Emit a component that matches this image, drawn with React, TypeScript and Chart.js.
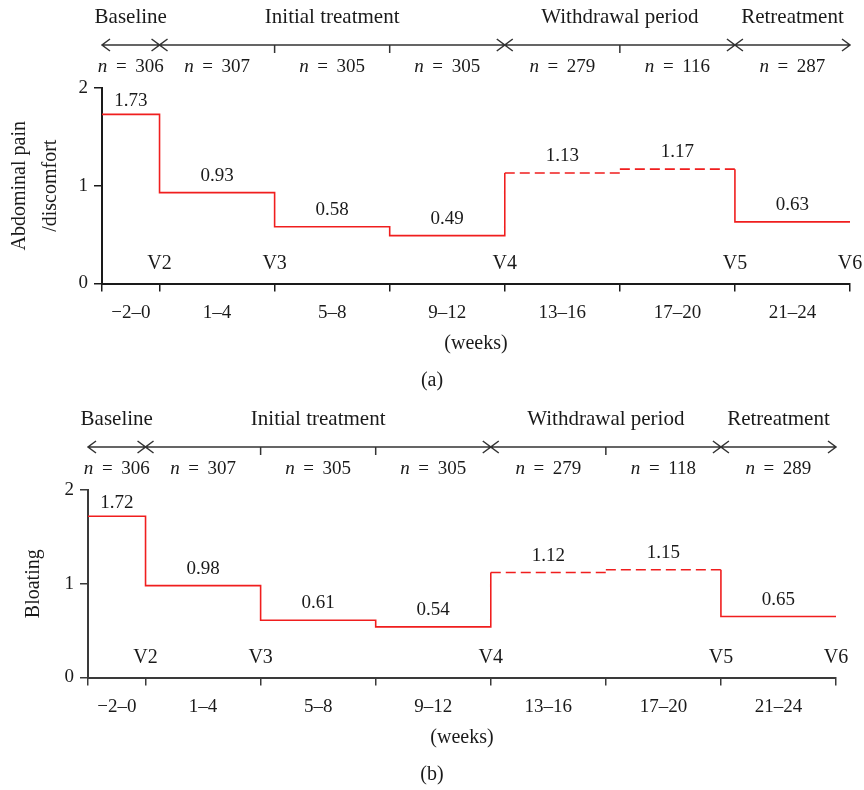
import React, { useEffect, useRef } from "react";
import { Chart, registerables } from "chart.js";

Chart.register(...registerables);

// ---------- data ----------
const weekBoundaries = [-2, 0, 4, 8, 12, 16, 20, 24];
const weekRangeLabels = ["\u22122\u20130", "1\u20134", "5\u20138", "9\u201312", "13\u201316", "17\u201320", "21\u201324"];
const dashedPeriods = [false, false, false, false, true, true, false];
const visitLabels = ["V2", "V3", "V4", "V5", "V6"];
const visitWeeks = [0, 4, 12, 20, 24];
const phaseLabels = ["Baseline", "Initial treatment", "Withdrawal period", "Retreatment"];
const phaseStartWeeks = [-2, 0, 12, 20];
const phaseEndWeeks = [0, 12, 20, 24];
const yTickValues = [0, 1, 2];

const painValues = [1.73, 0.93, 0.58, 0.49, 1.13, 1.17, 0.63];
const painN = [306, 307, 305, 305, 279, 116, 287];
const bloatingValues = [1.72, 0.98, 0.61, 0.54, 1.12, 1.15, 0.65];
const bloatingN = [306, 307, 305, 305, 279, 118, 289];

// ---------- styles ----------
const FONT = '"Liberation Serif", "Times New Roman", serif';
const TEXT = "#1a1a1a";
const LINE_RED = "#f01e1e";
const ARROW = "#333333";

type Area = { left: number; top: number; bottom: number; right: number };
type PanelCfg = {
  values: number[];
  nValues: number[];
  yTitle: string | string[];
  titlePad: number;
  titleLH: number;
  tag: string;
  height: number;
  area: Area;
  axisColor: string;
};

const panelA: PanelCfg = {
  values: painValues,
  nValues: painN,
  yTitle: ["Abdominal pain", "/discomfort"],
  titlePad: 4,
  titleLH: 1.55,
  tag: "(a)",
  height: 395,
  area: { left: 102, top: 88, bottom: 283.5, right: 850 },
  axisColor: "#1a1a1a",
};

const panelB: PanelCfg = {
  values: bloatingValues,
  nValues: bloatingN,
  yTitle: "Bloating",
  titlePad: 22,
  titleLH: 1.2,
  tag: "(b)",
  height: 395,
  area: { left: 88, top: 95, bottom: 282.5, right: 836 },
  axisColor: "#3a3a3a",
};

function buildStep(values: number[]) {
  const pts: { x: number; y: number }[] = [{ x: weekBoundaries[0], y: values[0] }];
  const styles: string[] = [];
  for (let i = 0; i < values.length; i++) {
    pts.push({ x: weekBoundaries[i + 1], y: values[i] });
    styles.push(dashedPeriods[i] ? "dash" : "solid");
    if (i < values.length - 1) {
      pts.push({ x: weekBoundaries[i + 1], y: values[i + 1] });
      styles.push(dashedPeriods[i] && dashedPeriods[i + 1] ? "hidden" : "solid");
    }
  }
  return { pts, styles };
}

function drawNLabel(ctx: CanvasRenderingContext2D, n: number, cx: number, baseline: number, size: number) {
  const italic = `italic ${size}px ${FONT}`;
  const upright = `${size}px ${FONT}`;
  const gap = size * 0.45;
  ctx.font = italic;
  const wN = ctx.measureText("n").width;
  ctx.font = upright;
  const wEq = ctx.measureText("=").width;
  const num = String(n);
  const wNum = ctx.measureText(num).width;
  const total = wN + gap + wEq + gap + wNum;
  let xx = cx - total / 2;
  ctx.textAlign = "left";
  ctx.font = italic;
  ctx.fillText("n", xx, baseline);
  xx += wN + gap;
  ctx.font = upright;
  ctx.fillText("=", xx, baseline);
  xx += wEq + gap;
  ctx.fillText(num, xx, baseline);
}

function makeAnnotPlugin(cfg: PanelCfg) {
  return {
    id: "annot",
    afterDraw(chart: any) {
      const { ctx, chartArea, scales } = chart;
      const x = scales.x;
      const y = scales.y;
      const top = chartArea.top;
      const bottom = chartArea.bottom;
      ctx.save();
      ctx.fillStyle = TEXT;
      ctx.textBaseline = "alphabetic";

      // phase labels
      ctx.font = `21px ${FONT}`;
      ctx.textAlign = "center";
      phaseLabels.forEach((lab, i) => {
        const cx = (x.getPixelForValue(phaseStartWeeks[i]) + x.getPixelForValue(phaseEndWeeks[i])) / 2;
        ctx.fillText(lab, cx, top - 65);
      });

      // phase arrows
      const ay = top - 43;
      ctx.strokeStyle = ARROW;
      ctx.lineWidth = 1.5;
      phaseStartWeeks.forEach((s, i) => {
        const xs = x.getPixelForValue(s);
        const xe = x.getPixelForValue(phaseEndWeeks[i]);
        ctx.beginPath();
        ctx.moveTo(xs, ay);
        ctx.lineTo(xe, ay);
        ctx.moveTo(xs + 8, ay - 6);
        ctx.lineTo(xs, ay);
        ctx.lineTo(xs + 8, ay + 6);
        ctx.moveTo(xe - 8, ay - 6);
        ctx.lineTo(xe, ay);
        ctx.lineTo(xe - 8, ay + 6);
        ctx.stroke();
      });
      // small ticks on arrow line at inner boundaries
      weekBoundaries
        .filter((w) => !phaseStartWeeks.includes(w) && !phaseEndWeeks.includes(w))
        .forEach((w) => {
          const px = x.getPixelForValue(w);
          ctx.beginPath();
          ctx.moveTo(px, ay);
          ctx.lineTo(px, ay + 8);
          ctx.stroke();
        });

      // n labels
      cfg.nValues.forEach((n, i) => {
        const cx = (x.getPixelForValue(weekBoundaries[i]) + x.getPixelForValue(weekBoundaries[i + 1])) / 2;
        drawNLabel(ctx, n, cx, top - 16, 19);
      });

      // value labels
      ctx.font = `19px ${FONT}`;
      ctx.textAlign = "center";
      cfg.values.forEach((v, i) => {
        const cx = (x.getPixelForValue(weekBoundaries[i]) + x.getPixelForValue(weekBoundaries[i + 1])) / 2;
        const by = Math.max(y.getPixelForValue(v) - 12, top + 18);
        ctx.fillText(v.toFixed(2), cx, by);
      });

      // visit labels
      ctx.font = `20px ${FONT}`;
      visitLabels.forEach((lab, i) => {
        ctx.fillText(lab, x.getPixelForValue(visitWeeks[i]), bottom - 15);
      });

      // week range labels
      ctx.font = `19px ${FONT}`;
      weekRangeLabels.forEach((lab, i) => {
        const cx = (x.getPixelForValue(weekBoundaries[i]) + x.getPixelForValue(weekBoundaries[i + 1])) / 2;
        ctx.fillText(lab, cx, bottom + 34);
      });

      // axis unit
      ctx.font = `20px ${FONT}`;
      const mid = (weekBoundaries[0] + weekBoundaries[weekBoundaries.length - 1]) / 2;
      ctx.fillText("(weeks)", x.getPixelForValue(mid), bottom + 65);

      // panel tag
      ctx.fillText(cfg.tag, chart.width / 2, bottom + 102);
      ctx.restore();
    },
  };
}

function Panel({ cfg }: { cfg: PanelCfg }) {
  const ref = useRef<HTMLCanvasElement | null>(null);
  useEffect(() => {
    const canvas = ref.current;
    if (!canvas) return;
    const { pts, styles } = buildStep(cfg.values);
    const { area, height, axisColor } = cfg;
    const chart = new Chart(canvas, {
      type: "line",
      data: {
        datasets: [
          {
            data: pts,
            borderColor: LINE_RED,
            borderWidth: 1.6,
            pointRadius: 0,
            pointHoverRadius: 0,
            tension: 0,
            fill: false,
            borderCapStyle: "butt",
            borderJoinStyle: "miter",
            segment: {
              borderDash: (c: any) => (styles[c.p0DataIndex] === "dash" ? [10, 5] : undefined),
              borderColor: (c: any) => (styles[c.p0DataIndex] === "hidden" ? "rgba(0,0,0,0)" : undefined),
            },
          } as any,
        ],
      },
      options: {
        responsive: false,
        maintainAspectRatio: false,
        animation: false,
        devicePixelRatio: 1,
        events: [],
        layout: { padding: { top: area.top, right: 864 - area.right, left: 0, bottom: 0 } },
        plugins: {
          legend: { display: false },
          tooltip: { enabled: false },
          title: { display: false },
        },
        scales: {
          x: {
            type: "linear",
            min: weekBoundaries[0],
            max: weekBoundaries[weekBoundaries.length - 1],
            afterBuildTicks: (s: any) => {
              s.ticks = weekBoundaries.map((v) => ({ value: v }));
            },
            afterFit: (s: any) => {
              s.height = height - area.bottom;
            },
            ticks: { display: false },
            grid: { drawOnChartArea: false, drawTicks: true, tickLength: 8, color: axisColor, lineWidth: 1.5 },
            border: { display: true, color: axisColor, width: 2 },
          },
          y: {
            type: "linear",
            min: 0,
            max: 2,
            afterBuildTicks: (s: any) => {
              s.ticks = yTickValues.map((v) => ({ value: v }));
            },
            afterFit: (s: any) => {
              s.width = area.left;
            },
            ticks: {
              font: { family: FONT, size: 19 },
              color: TEXT,
              padding: 6,
              callback: (v: any) => String(v),
            },
            grid: { drawOnChartArea: false, drawTicks: true, tickLength: 8, color: axisColor, lineWidth: 1.5 },
            border: { display: true, color: axisColor, width: 2 },
            title: {
              display: true,
              text: cfg.yTitle,
              color: TEXT,
              font: { family: FONT, size: 20, lineHeight: cfg.titleLH },
              padding: { top: cfg.titlePad, bottom: 0 },
            },
          },
        },
      } as any,
      plugins: [makeAnnotPlugin(cfg)],
    });
    return () => chart.destroy();
  }, [cfg]);
  return (
    <canvas
      ref={ref}
      width={864}
      height={cfg.height}
      style={{ display: "block", width: 864, height: cfg.height }}
    />
  );
}

export default function App() {
  return (
    <div style={{ position: "absolute", left: 0, top: 0, width: 864, height: 790, background: "#fff" }}>
      <Panel cfg={panelA} />
      <Panel cfg={panelB} />
    </div>
  );
}
